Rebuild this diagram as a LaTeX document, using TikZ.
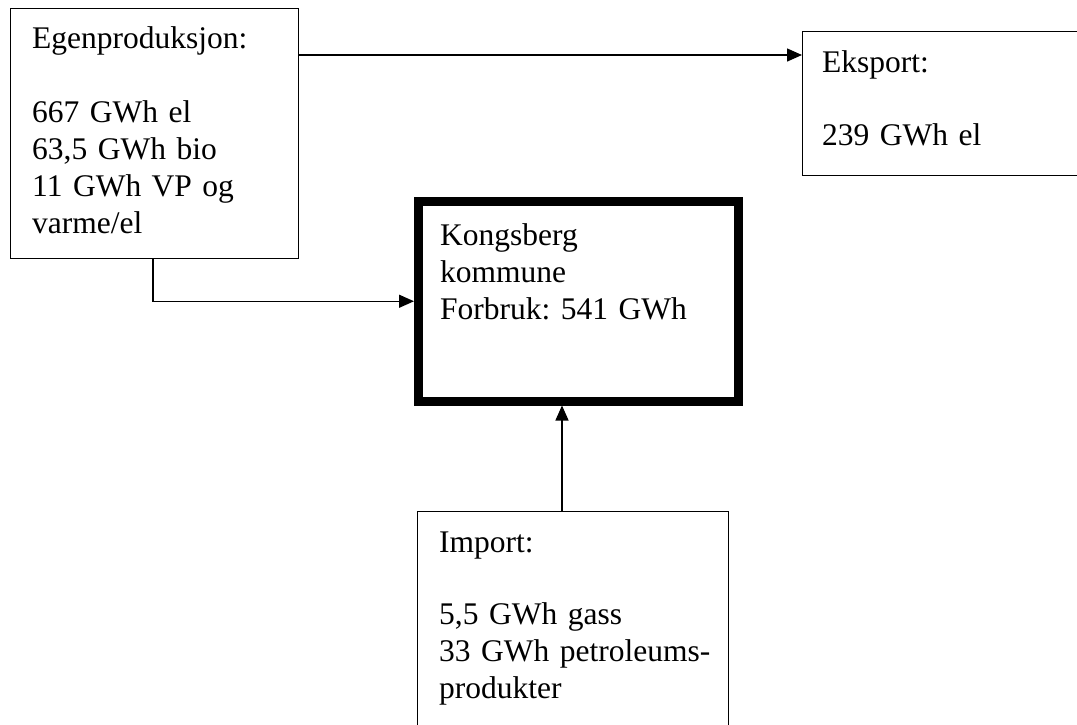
\documentclass[tikz,border=0pt]{standalone}
\usepackage{fontspec}
\setmainfont{Liberation Serif}
\frenchspacing
\usetikzlibrary{arrows.meta,calc}
\begin{document}
\begin{tikzpicture}[x=1pt,y=-1pt,
  box/.style={draw=black, line width=1.4pt, rectangle, inner sep=0pt, anchor=north west},
  thickbox/.style={draw=black, line width=8.5pt, rectangle, inner sep=0pt, anchor=north west},
  txt/.style={anchor=base west, inner sep=0pt, align=left, text width=300pt,
    font=\fontsize{31.5}{37}\selectfont\frenchspacing},
  arr/.style={draw=black, line width=1.4pt, -{Triangle[length=15pt,width=13pt]}}]
\useasboundingbox[fill=white] (0,0) rectangle (1077,724);
% boxes
\node[box, minimum width=288pt, minimum height=250pt] (egen) at (10,8) {};
\node[box, minimum width=278pt, minimum height=144pt] (eks) at (802,31) {};
\node[thickbox, minimum width=320pt, minimum height=200pt] (kong) at (414,197) {};
\node[box, minimum width=311pt, minimum height=220pt] (imp) at (417,511) {};
% texts
\node[txt] (egent) at (32,48) {Egenproduksjon:\\[37pt]667 GWh el\\63,5 GWh bio\\11 GWh VP og\\varme/el};
\node[txt] (ekst) at (822,72) {Eksport:\\[36pt]239 GWh el};
\node[txt] (kongt) at (440,245) {Kongsberg\\kommune\\Forbruk: 541 GWh};
\node[txt] (impt) at (439,552) {Import:\\[35pt]5,5 GWh gass\\33 GWh petroleums-\\produkter};
% connectors
\coordinate (e1) at ($(egen.north east)+(0,47)$);
\draw[arr] (e1) -- (e1 -| eks.west);
\coordinate (e2) at ($(egen.south west)+(143,0)$);
\draw[arr] (e2) |- (kong.west);
\coordinate (i1) at ($(imp.north west)+(145,0)$);
\draw[arr] (i1) -- (i1 |- kong.south);
\end{tikzpicture}
\end{document}
